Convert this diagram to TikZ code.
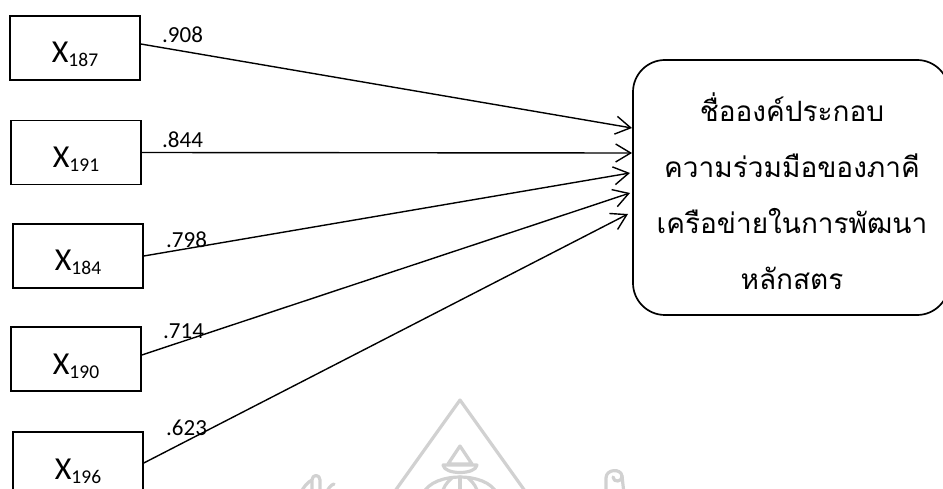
\documentclass[tikz,border=0pt]{standalone}
\usepackage{fontspec}
\setmainfont{Carlito}
\newfontfamily\thaifont[Script=Thai]{Loma}
\usetikzlibrary{arrows.meta}
\newcommand{\xvar}[1]{{\fontsize{32}{32}\selectfont X}\raisebox{-4pt}{\fontsize{19.5}{20}\selectfont #1}}
\begin{document}
\begin{tikzpicture}[x=1pt,y=-1pt,
  varbox/.style={draw,line width=1.6pt,minimum width=130pt,minimum height=64pt,
    inner sep=0pt,text height=30pt,text depth=0pt},
  coef/.style={anchor=base west,inner sep=0pt,font=\fontsize{23}{23}\selectfont},
  target/.style={draw,line width=1.7pt,rounded corners=32pt,minimum width=316pt,
    minimum height=255pt,inner sep=0pt},
  thline/.style={anchor=base,inner sep=0pt,font=\thaifont\fontsize{28}{28}\selectfont},
  conn/.style={line width=1.4pt,-{Straight Barb[length=15pt,width=18pt]}},
  wm/.style={draw=black!18,line width=3.2pt,line cap=round,line join=round}]
\useasboundingbox (0,0) rectangle (943,489);

% watermark
\draw[wm] (390,498) -- (460,400) -- (530,498);
\draw[wm] (448,464) -- (460,446) -- (472,464) -- cycle;
\draw[wm] (443,465) -- (477,465) .. controls (476,475) and (444,475) .. (443,465);
\draw[wm] (423,494) .. controls (428,482) and (445,477) .. (460,477) .. controls (475,477) and (492,482) .. (497,494);
\draw[wm] (460,477) -- (460,494);
\draw[wm] (452,478) .. controls (446,483) and (443,488) .. (442,494);
\draw[wm] (468,478) .. controls (474,483) and (477,488) .. (478,494);
\draw[wm] (300,494) .. controls (304,486) and (308,482) .. (312,480);
\draw[wm] (312,494) -- (312,480) .. controls (312,474) and (320,474) .. (320,480) -- (320,494);
\draw[wm] (326,494) .. controls (328,488) and (331,485) .. (334,484);
\draw[wm] (606,494) -- (606,478) .. controls (606,469) and (621,468) .. (622,476) .. controls (623,482) and (613,483) .. (613,477);
\draw[wm] (622,476) -- (624,494);

% variable boxes
\node[varbox] (v1) at (75,48) {\xvar{187}};
\node[varbox] (v2) at (76,152.5) {\xvar{191}};
\node[varbox] (v3) at (78,256) {\xvar{184}};
\node[varbox] (v4) at (76,359) {\xvar{190}};
\node[varbox] (v5) at (78,464) {\xvar{196}};

% target
\node[target] (R) at (791,187.5) {};
\node[thline] (r1) at (792,122) {ชื่อองค์ประกอบ};
\node[thline] (r2) at (792,178) {ความร่วมมือของภาคี};
\node[thline] (r3) at (792,234) {เครือข่ายในการพัฒนา};
\node[thline] (r4) at (792,290) {หลักสตร};

\coordinate (t1) at (632,128);
\coordinate (t2) at (632,153);
\coordinate (t3) at (630,173);
\coordinate (t4) at (630,193);
\coordinate (t5) at (628,214);

\draw[conn] (v1.east |- 0,44) -- (t1);
\draw[conn] (v2.east) -- (t2);
\draw[conn] (v3.east) -- (t3);
\draw[conn] (v4.east |- 0,355) -- (t4);
\draw[conn] (v5.east |- 0,463) -- (t5);

% coefficients
\node[coef] (c1) at (162,43) {.908};
\node[coef] (c2) at (162,148) {.844};
\node[coef] (c3) at (166,248) {.798};
\node[coef] (c4) at (163,338) {.714};
\node[coef] (c5) at (166,435) {.623};
\end{tikzpicture}
\end{document}
